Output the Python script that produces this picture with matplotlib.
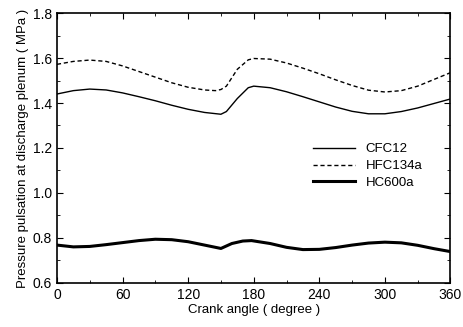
import matplotlib
matplotlib.use("Agg")
import matplotlib.pyplot as plt
from matplotlib.ticker import MultipleLocator

plt.rcParams['font.family'] = ['Liberation Sans', 'DejaVu Sans']

# crank angle (degree) and pressure (MPa)
angle_cfc = [0, 15, 30, 45, 60, 75, 90, 105, 120, 135, 150, 155, 165, 175, 180,
             195, 210, 225, 240, 255, 270, 285, 300, 315, 330, 345, 360]
p_cfc12 = [1.440, 1.455, 1.462, 1.458, 1.445, 1.428, 1.410, 1.390, 1.372, 1.358,
           1.350, 1.362, 1.420, 1.468, 1.475, 1.468, 1.450, 1.428, 1.405, 1.382,
           1.363, 1.352, 1.352, 1.362, 1.378, 1.398, 1.418]

angle_hfc = [0, 15, 30, 45, 60, 75, 90, 105, 120, 135, 145, 150, 155, 165, 175,
             180, 195, 210, 225, 240, 255, 270, 285, 300, 315, 330, 345, 360]
p_hfc134a = [1.572, 1.585, 1.591, 1.585, 1.565, 1.540, 1.515, 1.490, 1.470, 1.458,
             1.455, 1.460, 1.475, 1.550, 1.592, 1.598, 1.595, 1.578, 1.555, 1.530,
             1.503, 1.478, 1.457, 1.449, 1.455, 1.475, 1.505, 1.535]

angle_hc = [0, 15, 30, 45, 60, 75, 90, 105, 120, 135, 150, 160, 170, 178, 195,
            210, 225, 240, 255, 270, 285, 300, 315, 330, 345, 360]
p_hc600a = [0.768, 0.760, 0.762, 0.770, 0.779, 0.788, 0.794, 0.792, 0.783, 0.768,
            0.753, 0.775, 0.786, 0.788, 0.775, 0.758, 0.748, 0.749, 0.757, 0.768,
            0.777, 0.781, 0.778, 0.767, 0.752, 0.739]

fig = plt.figure(figsize=(4.63, 3.27), dpi=100)
ax = fig.add_axes([0.123, 0.135, 0.850, 0.825])

ax.plot(angle_cfc, p_cfc12, color='black', lw=1.0, label='CFC12')
ax.plot(angle_hfc, p_hfc134a, color='black', lw=1.0, ls=(0, (3, 2)), label='HFC134a')
ax.plot(angle_hc, p_hc600a, color='black', lw=2.2, label='HC600a')

ax.set_xlim(0, 360)
ax.set_ylim(0.6, 1.8)
ax.xaxis.set_major_locator(MultipleLocator(60))
ax.xaxis.set_minor_locator(MultipleLocator(30))
ax.yaxis.set_major_locator(MultipleLocator(0.2))
ax.yaxis.set_minor_locator(MultipleLocator(0.1))
ax.tick_params(which='both', direction='in', top=True, right=True, labelsize=10)
ax.tick_params(which='major', length=4)
ax.tick_params(which='minor', length=2.5)
for s in ax.spines.values():
    s.set_linewidth(1.2)

ax.set_xlabel('Crank angle ( degree )', fontsize=9.5, labelpad=2)
ax.set_ylabel('Pressure pulsation at discharge plenum ( MPa )', fontsize=9.5, labelpad=3)

ax.legend(loc='center left', bbox_to_anchor=(0.62, 0.433), frameon=False,
          fontsize=9.5, handlelength=3.2, labelspacing=0.35)

plt.savefig('out.png', dpi=100)
